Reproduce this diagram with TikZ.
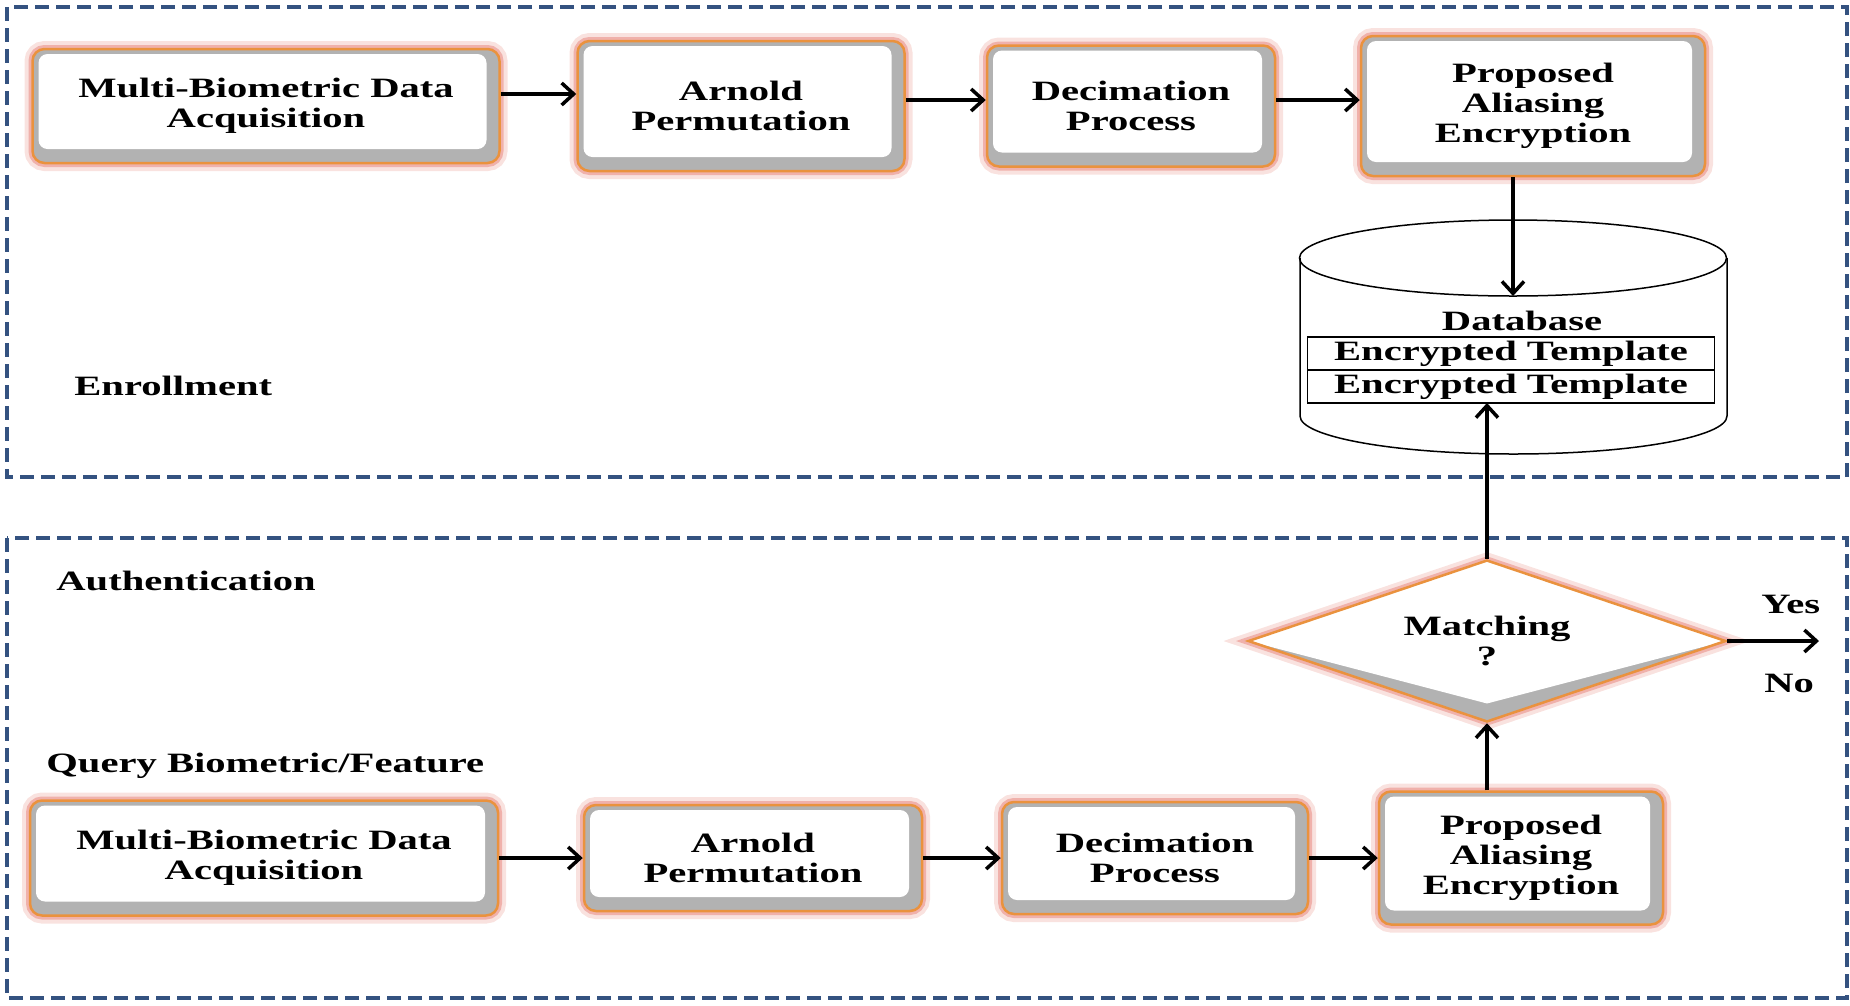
\documentclass[tikz,border=0pt]{standalone}
\usepackage{fontspec}
\setmainfont{Liberation Serif}[FakeStretch=1.45]
\usetikzlibrary{arrows.meta, shapes.geometric, positioning}

\definecolor{frameblue}{RGB}{52,82,128}
\definecolor{boxorange}{RGB}{234,146,62}
\definecolor{glowred}{RGB}{236,158,150}
\newcommand{\diagfont}{\fontsize{28}{30}\selectfont\bfseries}

\begin{document}
\begin{tikzpicture}[x=1pt, y=1pt, node distance=400pt, thick, >={Straight Barb[length=12pt,width=22pt]}]
    % Define block styles
    \tikzstyle{procbox} = [rectangle, rounded corners=12pt, draw=boxorange, line width=2.5pt,
        align=center, font=\diagfont, inner sep=0pt,
        preaction={draw=glowred!30, line width=16pt},
        preaction={draw=glowred!80, line width=8pt},
        path picture={
            \fill[gray!60] (path picture bounding box.south west) rectangle (path picture bounding box.north east);
            \fill[white, rounded corners=9pt] ([shift={(6pt,-5pt)}]path picture bounding box.north west)
                rectangle ([shift={(-13pt,14pt)}]path picture bounding box.south east);
        }]
    \tikzstyle{decision} = [diamond, aspect=2.95, draw=boxorange, line width=2.5pt, minimum width=478pt,
        minimum height=162pt, inner sep=0pt, align=center, font=\diagfont,
        preaction={draw=glowred!30, line width=16pt},
        preaction={draw=glowred!80, line width=8pt},
        path picture={
            \fill[gray!60] (path picture bounding box.south west) rectangle (path picture bounding box.north east);
            \fill[white] (path picture bounding box.west) -- (path picture bounding box.north)
                -- (path picture bounding box.east) -- ([yshift=18pt]path picture bounding box.south) -- cycle;
        }]
    \tikzstyle{tplrow} = [rectangle, draw, line width=1.5pt, minimum width=407pt, minimum height=33pt,
        inner sep=0pt, outer sep=0pt, font=\diagfont]
    \tikzstyle{label} = [anchor=base west, inner sep=0pt, font=\diagfont]
    \tikzstyle{frame} = [draw=frameblue, line width=3.5pt, dash pattern=on 14pt off 7pt]
    \tikzstyle{line} = [draw, ->, line width=3.5pt]

    \useasboundingbox (0,0) rectangle (1850,-1005);

    % Frames
    \path [frame] (7,-7) rectangle (1847,-477);
    \path [frame] (7,-538) rectangle (1847,-998);

    % Enrollment nodes
    \node [procbox, minimum width=467pt, minimum height=114pt] (acqE) at (266,-106) {Multi-Biometric Data\\Acquisition};
    \node [procbox, right of=acqE, node distance=475pt, minimum width=327pt, minimum height=130pt] (arnE) {Arnold\\Permutation};
    \node [procbox, right of=arnE, node distance=390pt, minimum width=288pt, minimum height=121pt] (decE) {Decimation\\Process};
    \node [procbox, right of=decE, node distance=402pt, minimum width=344pt, minimum height=140pt] (encE) {Proposed\\Aliasing\\Encryption};
    \node [label] (enroll) at (74,-395) {Enrollment};

    % Database
    \draw [line width=1.5pt, fill=white] (1300,-258) -- (1300,-416)
        arc [start angle=180, end angle=360, x radius=213.5pt, y radius=38pt] -- (1727,-258);
    \draw [line width=1.5pt] (1513,-258) ellipse [x radius=213.5pt, y radius=38pt];
    \coordinate (dbtop) at (1513,-296);
    \node [font=\diagfont, anchor=base, inner sep=0pt] (dblabel) at (1522,-330) {Database};
    \node [tplrow] (tplA) at (1511,-353.5) {Encrypted Template};
    \node [tplrow, below=0pt of tplA] (tplB) {Encrypted Template};

    % Authentication nodes
    \node [label] (auth) at (56,-590) {Authentication};
    \node [label] (query) at (46,-772) {Query Biometric/Feature};
    \node [procbox, minimum width=468pt, minimum height=115pt] (acqA) at (264,-858) {Multi-Biometric Data\\Acquisition};
    \node [procbox, right of=acqA, node distance=489pt, minimum width=338pt, minimum height=106pt] (arnA) {Arnold\\Permutation};
    \node [procbox, right of=arnA, node distance=402pt, minimum width=306pt, minimum height=112pt] (decA) {Decimation\\Process};
    \node [procbox, right of=decA, node distance=366pt, minimum width=284pt, minimum height=133pt] (encA) {Proposed\\Aliasing\\Encryption};
    \node [decision] (match) at (1487,-641) {Matching\\?};
    \coordinate (yesend) at (1819,-641);
    \node [label] (yes) at (1761,-613) {Yes};
    \node [label] (no) at (1764,-692) {No};

    % Draw edges
    \path [line] ([yshift=12pt]acqE.east) -- ([yshift=12pt]arnE.west);
    \path [line] ([yshift=6pt]arnE.east) -- ([yshift=6pt]decE.west);
    \path [line] ([yshift=6pt]decE.east) -- ([yshift=6pt]encE.west);
    \path [line] (encE.south -| dbtop) -- (dbtop);
    \path [line] (acqA.east) -- (arnA.west);
    \path [line] (arnA.east) -- (decA.west);
    \path [line] (decA.east) -- (encA.west);
    \path [line] (match.south |- encA.north) -- (match.south);
    \path [line] (match.north) -- (match.north |- tplB.south);
    \path [line] (match.east) -- (yesend);
\end{tikzpicture}
\end{document}
